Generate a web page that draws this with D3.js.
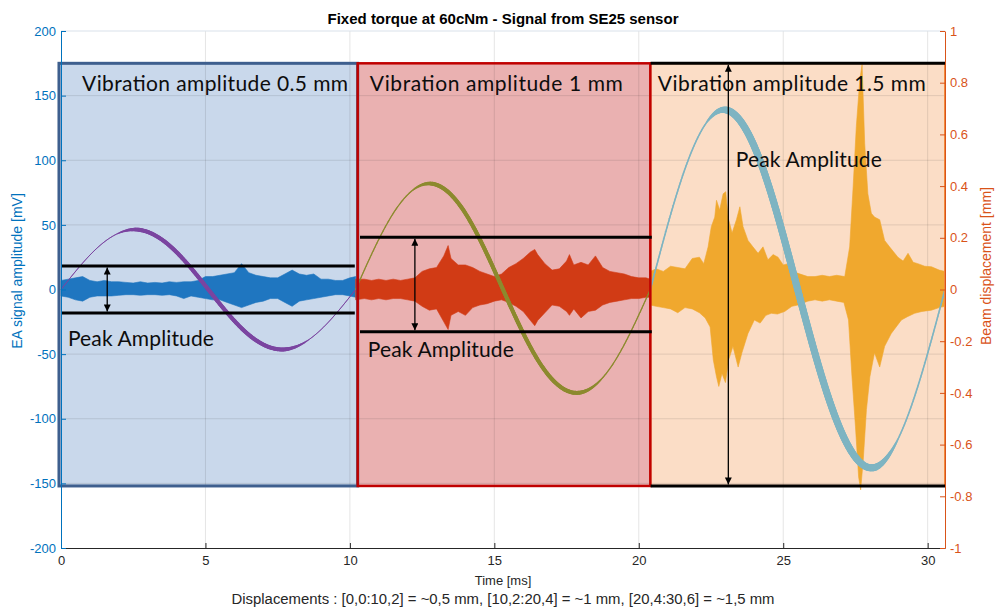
<!DOCTYPE html>
<meta charset="utf-8">
<head>
<title>Fixed torque at 60cNm - Signal from SE25 sensor</title>
<script src="https://cdn.jsdelivr.net/npm/d3@7"></script>
<style>
  body { margin: 0; background: #fff; }
  text { font-family: "Liberation Sans", Arial, sans-serif; }
  .note { font-family: Lato, "Open Sans", sans-serif; fill: #0d0d0d; }
</style>
</head>
<body>
<div id="chart"></div>
<script>
// axes
var xTicks = [0, 5, 10, 15, 20, 25, 30];
var yLeftTicks = [-200, -150, -100, -50, 0, 50, 100, 150, 200];
var yRightTicks = [-1, -0.8, -0.6, -0.4, -0.2, 0, 0.2, 0.4, 0.6, 0.8, 1];

// EA signal envelope [mV] per window: upper edge and lower edge
var sigT1 = [0,0.25,0.5,0.75,1,1.25,1.5,1.75,2,2.25,2.5,2.75,3,3.25,3.5,3.75,4,4.25,4.5,4.75,5,5.25,5.5,5.75,6,6.25,6.5,6.75,7,7.25,7.5,7.75,8,8.25,8.5,8.75,9,9.25,9.5,9.75,10,10.2];
var sigHi1 = [7,8,9,10,7,6,7,6,6,5.5,5,6,5,5.5,5,6,5.5,6,6,7,10,10,11,12,13,20,13,11,10,9,9,12,15,12,11,12,8,8,7,7,9,10];
var sigLo1 = [-5,-6,-8,-9,-6,-5,-5,-5,-4.5,-4,-4,-4.5,-4,-4,-4.5,-4,-5,-7,-5,-6,-7,-8,-8,-10,-12,-14,-12,-10,-9,-7,-7,-10,-13,-9,-8,-7,-6,-5,-4,-4,-5,-6];

var sigT2 = [10.2,10.5,10.75,11,11.25,11.5,11.75,12,12.25,12.5,12.75,13,13.25,13.4,13.5,13.75,14,14.25,14.5,14.75,15,15.25,15.5,15.75,16,16.25,16.4,16.5,16.75,17,17.25,17.5,17.6,17.75,18,18.25,18.5,18.75,19,19.25,19.5,19.75,20,20.25,20.4];
var sigHi2 = [8,8,7,8,7,8,7,8,9,14,16,17,26,34,24,19,19,17,14,12,10,12,17,20,24,29,31,27,20,15,16,22,27,19,21,19,26,17,14,13,12,10,9,9,8];
var sigLo2 = [-8,-7,-8,-7,-8,-7,-7,-8,-9,-13,-16,-15,-25,-31,-20,-17,-20,-14,-12,-11,-9,-8,-10,-13,-17,-24,-28,-24,-18,-12,-13,-17,-20,-15,-22,-17,-16,-12,-10,-9,-8,-7,-7,-6,-6];

var sigHiT3 = [20.4,20.6,20.85,21.1,21.35,21.6,21.85,22.1,22.25,22.4,22.51,22.63,22.69,22.8,22.92,23.01,23.09,23.23,23.38,23.5,23.61,23.78,23.95,24.13,24.3,24.47,24.65,24.82,25,25.17,25.35,25.51,25.85,26.1,26.35,26.6,26.85,27.13,27.3,27.42,27.53,27.65,27.73,27.82,27.93,28.05,28.16,28.34,28.51,28.68,28.97,29.15,29.32,29.5,29.66,29.9,30.13,30.4,30.6];
var sigHi3 = [14,16,14,18,17,16,24,25,20,33,48.6,56,69,61.5,74,75.7,56,43.7,54,64,48.6,38,33,28,33,23,27,25,19,20,14,12.5,10,10,11,10,11,10,33,79.5,126,162,174,113,74,59,56,54,38,33,25,22,28,21,20,18,17.6,15,14];
var sigLoT3 = [20.4,20.6,20.85,21.1,21.35,21.6,21.85,22.1,22.3,22.47,22.58,22.69,22.77,22.88,23,23.11,23.26,23.44,23.57,23.78,24,24.2,24.4,24.59,24.8,25.05,25.3,25.51,25.85,26.1,26.35,26.6,26.85,27.1,27.26,27.38,27.5,27.61,27.68,27.77,27.88,28,28.16,28.34,28.51,28.74,29.09,29.3,29.55,29.8,30.13,30.4,30.6];
var sigLo3 = [-12,-13,-14,-15,-18,-14,-15,-18,-22,-29,-54.5,-67.5,-75,-65,-72,-54.5,-44,-60,-49,-34,-23.6,-26,-20,-18.4,-19,-17,-13,-12,-9,-8,-9,-8,-9,-10,-23.6,-67.5,-106,-145,-155,-132,-93,-67.5,-49,-60,-44,-34,-23.6,-21,-18.4,-17,-16,-14,-13];

// beam displacement [mm], one period per window
var beamT1 = [0,1.275,2.55,3.825,5.1,6.375,7.65,8.925,10.2];
var beam1 = [0,0.163,0.232,0.163,0,-0.163,-0.232,-0.163,0];
var beamT2 = [10.2,11.475,12.75,14.025,15.3,16.575,17.85,19.125,20.4];
var beam2 = [0,0.29,0.41,0.29,0,-0.285,-0.4,-0.285,0];
var beamT3 = [20.4,21.675,22.95,24.225,25.5,26.775,28.05,29.325,30.6];
var beam3 = [0,0.49,0.695,0.49,0,-0.485,-0.69,-0.485,0];

// windows and peak-amplitude annotations
var winName = ["Vibration amplitude  0.5 mm", "Vibration amplitude  1 mm", "Vibration amplitude  1.5 mm"];
var winStart = [-0.07, 10.27, 20.4];
var winEnd = [10.27, 20.4, 30.6];
var winTop = 175, winBottom = -152;
var peakHi = [18.2, 40.4, 175];
var peakLo = [-18.2, -32.6, -152];
var peakFrom = [0.03, 10.35, 20.41];
var peakTo = [10.17, 20.45, 30.62];
var arrowT = [1.6, 12.25, 23.1];
var nameT = [0.73, 10.69, 20.66], nameY = 153.6;
var peakLabelT = [0.24, 10.62, 23.36];
var peakLabelY = [-43.7, -52.2, 94.8];

var w = 996, h = 611;
var pLeft = 61, pRight = 945, pTop = 31, pBottom = 548;

var svg = d3.select("#chart").append("svg").attr("width", w).attr("height", h);

var x = d3.scaleLinear().domain([0, 30.6]).range([pLeft, pRight]);
var yL = d3.scaleLinear().domain([-200, 200]).range([pBottom, pTop]);
var yR = d3.scaleLinear().domain([-1, 1]).range([pBottom, pTop]);

var boxFill = ["#c9d8eb", "#eab1b1", "#fbddc6"];
var boxStroke = ["#3e5f8e", "#c00000", "#f28a3c"];
var boxWidth = [3, 2.5, 2];
var sigColor = ["#1f76c0", "#d13b15", "#f0a82e"];
var beamColor = ["#7b45a0", "#8c8a2e", "#7eb4c2"];
var beamThin = [1, 1.2, 1.5], beamThick = [4, 4, 7];
var nameLen = [266, 253, 268], peakLen = 146;

// box fills
svg.append("g").selectAll("rect").data(d3.range(3)).enter().append("rect")
  .attr("x", i => x(winStart[i])).attr("width", i => x(winEnd[i]) - x(winStart[i]))
  .attr("y", yL(winTop)).attr("height", yL(winBottom) - yL(winTop))
  .attr("fill", i => boxFill[i]);

// grid
var grid = svg.append("g").attr("stroke", "#262626").attr("stroke-opacity", 0.12);
grid.selectAll(".gx").data(xTicks.filter(d => d > 0)).enter().append("line")
  .attr("x1", d => x(d)).attr("x2", d => x(d)).attr("y1", pTop).attr("y2", pBottom);
grid.selectAll(".gy").data(yLeftTicks.filter(d => d > -200 && d < 200)).enter().append("line")
  .attr("x1", pLeft).attr("x2", pRight).attr("y1", d => yL(d)).attr("y2", d => yL(d));
svg.append("line").attr("x1", pLeft).attr("x2", pRight).attr("y1", pTop).attr("y2", pTop)
  .attr("stroke", "#d9e1ea");

// EA signal: upper edge left to right, lower edge back
var sigs = [[sigT1, sigHi1, sigT1, sigLo1], [sigT2, sigHi2, sigT2, sigLo2], [sigHiT3, sigHi3, sigLoT3, sigLo3]];
var edge = d3.line().x(d => x(d[0])).y(d => yL(d[1]));
sigs.forEach(function(s, k) {
  var upper = s[0].map((t, i) => [t, s[1][i]]);
  var lower = s[2].map((t, i) => [t, s[3][i]]).reverse();
  svg.append("path").attr("d", edge(upper.concat(lower)) + "Z").attr("fill", sigColor[k])
    .attr("stroke", sigColor[k]).attr("stroke-width", 0.6).attr("stroke-linejoin", "miter");
});

// beam displacement, line gets thicker over the second half-period like in the source figure
function beamWidth(phase, thin, thick) {
  var r;
  if (phase < 0.19) r = 0;
  else if (phase < 0.26) r = (phase - 0.19) / 0.07;
  else if (phase < 0.76) r = 1;
  else if (phase < 0.84) r = 1 - (phase - 0.76) / 0.08;
  else r = 0;
  return thin + (thick - thin) * r;
}
var beams = [[beamT1, beam1], [beamT2, beam2], [beamT3, beam3]];
beams.forEach(function(b, k) {
  var line = d3.line().x((d, i) => x(b[0][i])).y((d, i) => yR(b[1][i])).curve(d3.curveNatural);
  var tmp = svg.append("path").attr("d", line(b[0])).attr("fill", "none");
  var node = tmp.node(), len = node.getTotalLength();
  var pts = d3.range(0, len, 1.5).concat([len]).map(l => node.getPointAtLength(l));
  tmp.remove();
  var t0 = b[0][0], t1 = b[0][b[0].length - 1];
  var g = svg.append("g").attr("stroke", beamColor[k]).attr("stroke-linecap", "round");
  for (var i = 1; i < pts.length; i++) {
    var ph = (x.invert((pts[i].x + pts[i - 1].x) / 2) - t0) / (t1 - t0);
    g.append("line").attr("x1", pts[i - 1].x).attr("y1", pts[i - 1].y)
      .attr("x2", pts[i].x).attr("y2", pts[i].y)
      .attr("stroke-width", beamWidth(ph, beamThin[k], beamThick[k]));
  }
});

// box borders (red drawn last, on top)
[0, 2, 1].forEach(function(i) {
  svg.append("rect")
    .attr("x", x(winStart[i])).attr("width", x(winEnd[i]) - x(winStart[i]))
    .attr("y", yL(winTop)).attr("height", yL(winBottom) - yL(winTop))
    .attr("fill", "none").attr("stroke", boxStroke[i]).attr("stroke-width", boxWidth[i]);
});

// peak lines and arrows
var defs = svg.append("defs");
defs.append("marker").attr("id", "arr").attr("viewBox", "0 0 10 10")
  .attr("refX", 10).attr("refY", 5).attr("markerWidth", 8).attr("markerHeight", 7)
  .attr("markerUnits", "userSpaceOnUse").attr("orient", "auto-start-reverse")
  .append("path").attr("d", "M0,0L10,5L0,10z").attr("fill", "#000");

d3.range(3).forEach(function(i) {
  [peakHi[i], peakLo[i]].forEach(function(v) {
    svg.append("line").attr("x1", x(peakFrom[i])).attr("x2", x(peakTo[i]))
      .attr("y1", yL(v)).attr("y2", yL(v)).attr("stroke", "#000").attr("stroke-width", 3);
  });
  svg.append("line").attr("x1", x(arrowT[i])).attr("x2", x(arrowT[i]))
    .attr("y1", yL(peakHi[i]) + 1.5).attr("y2", yL(peakLo[i]) - 1.5)
    .attr("stroke", "#000").attr("stroke-width", 1.3)
    .attr("marker-start", "url(#arr)").attr("marker-end", "url(#arr)");
  svg.append("text").attr("class", "note").attr("x", x(nameT[i])).attr("y", yL(nameY))
    .attr("font-size", 21).attr("textLength", nameLen[i]).attr("lengthAdjust", "spacing")
    .text(winName[i]);
  svg.append("text").attr("class", "note").attr("x", x(peakLabelT[i])).attr("y", yL(peakLabelY[i]))
    .attr("font-size", 21).attr("textLength", peakLen).attr("lengthAdjust", "spacing")
    .text("Peak Amplitude");
});

// axes
var fmt = d => String(+d.toFixed(1));
var ax = svg.append("g").attr("transform", "translate(0," + pBottom + ")")
  .call(d3.axisBottom(x).tickValues(xTicks).tickSize(-5).tickSizeOuter(0).tickPadding(8).tickFormat(fmt));
ax.selectAll("path,line").attr("stroke", "#262626");
ax.selectAll("text").attr("fill", "#262626").attr("font-size", 13).style("font-family", "Liberation Sans, Arial, sans-serif");

var al = svg.append("g").attr("transform", "translate(" + pLeft + ",0)")
  .call(d3.axisLeft(yL).tickValues(yLeftTicks).tickSize(-5).tickSizeOuter(0).tickPadding(5).tickFormat(fmt));
al.selectAll("path,line").attr("stroke", "#0072bd");
al.selectAll("text").attr("fill", "#0072bd").attr("font-size", 13).style("font-family", "Liberation Sans, Arial, sans-serif");

var ar = svg.append("g").attr("transform", "translate(" + pRight + ",0)")
  .call(d3.axisRight(yR).tickValues(yRightTicks).tickSize(-5).tickSizeOuter(0).tickPadding(5).tickFormat(fmt));
ar.selectAll("path,line").attr("stroke", "#d95319");
ar.selectAll("text").attr("fill", "#d95319").attr("font-size", 13).style("font-family", "Liberation Sans, Arial, sans-serif");

// titles
svg.append("text").attr("x", (pLeft + pRight) / 2).attr("y", 24).attr("text-anchor", "middle")
  .attr("font-size", 15).attr("font-weight", "bold").attr("fill", "#000")
  .text("Fixed torque at 60cNm - Signal from SE25 sensor");
svg.append("text").attr("x", (pLeft + pRight) / 2).attr("y", 585).attr("text-anchor", "middle")
  .attr("font-size", 13).attr("fill", "#262626").text("Time [ms]");
svg.append("text").attr("x", (pLeft + pRight) / 2).attr("y", 604).attr("text-anchor", "middle")
  .attr("font-size", 14).attr("fill", "#262626").attr("textLength", 543).attr("lengthAdjust", "spacingAndGlyphs")
  .text("Displacements : [0,0:10,2] = ~0,5 mm, [10,2:20,4] = ~1 mm, [20,4:30,6] = ~1,5 mm");
svg.append("text").attr("transform", "translate(22,271) rotate(-90)").attr("text-anchor", "middle")
  .attr("font-size", 14).attr("fill", "#0072bd").text("EA signal amplitude [mV]");
svg.append("text").attr("transform", "translate(991,266) rotate(-90)").attr("text-anchor", "middle")
  .attr("font-size", 14).attr("fill", "#d95319").text("Beam displacement [mm]");
</script>
</body>
</html>
